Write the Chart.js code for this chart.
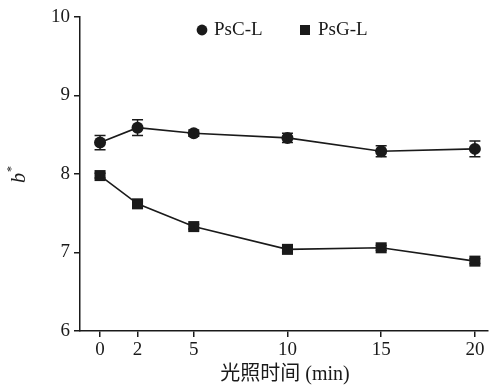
<!DOCTYPE html>
<html>
<head>
<meta charset="utf-8">
<script src="https://cdn.jsdelivr.net/npm/chart.js@4.4.1/dist/chart.umd.min.js"></script>
<style>
  html, body { margin: 0; padding: 0; background: #fff; }
  #wrap { width: 489px; height: 389px; }
</style>
</head>
<body>
<div id="wrap"><canvas id="chart" width="489" height="389"></canvas></div>
<script>
// light time (min)
var times = [0, 2, 5, 10, 15, 20];
var xTicks = [0, 2, 5, 10, 15, 20];
var yTicks = [6, 7, 8, 9, 10];

var pscValues = [8.40, 8.59, 8.52, 8.46, 8.29, 8.32];
var pscErrors = [0.09, 0.10, 0.04, 0.06, 0.07, 0.10];
var psgValues = [7.98, 7.62, 7.33, 7.04, 7.06, 6.89];
var psgErrors = [0.03, 0.03, 0.03, 0.03, 0.03, 0.03];

var seriesNames = ["PsC-L", "PsG-L"];
var xTitle = "光照时间 (min)";
var yTitle = "b";
var yTitleSup = "*";

var serif = "'Liberation Serif', 'Times New Roman', 'Noto Sans CJK SC', serif";
var ink = "#1a1a1a";

function toPoints(vals) {
    return times.map(function (t, i) { return { x: t, y: vals[i] }; });
}

// error bars drawn from the data through the y scale
var errorBars = {
    id: 'errorBars',
    afterDatasetsDraw: function (chart) {
        var ctx = chart.ctx;
        var ys = chart.scales.y;
        chart.data.datasets.forEach(function (ds, i) {
            var meta = chart.getDatasetMeta(i);
            ctx.save();
            ctx.strokeStyle = ink;
            ctx.lineWidth = 1.5;
            meta.data.forEach(function (pt, j) {
                var v = ds.data[j].y, e = ds.errors[j];
                var top = ys.getPixelForValue(v + e);
                var bot = ys.getPixelForValue(v - e);
                ctx.beginPath();
                ctx.moveTo(pt.x, top); ctx.lineTo(pt.x, bot);
                ctx.moveTo(pt.x - 5.5, top); ctx.lineTo(pt.x + 5.5, top);
                ctx.moveTo(pt.x - 5.5, bot); ctx.lineTo(pt.x + 5.5, bot);
                ctx.stroke();
            });
            ctx.restore();
        });
    }
};

// legend inside the plot and the axis titles
var decorations = {
    id: 'decorations',
    afterDraw: function (chart) {
        var ctx = chart.ctx;
        var area = chart.chartArea;
        ctx.save();
        ctx.fillStyle = ink;
        ctx.font = "19px " + serif;
        ctx.textBaseline = "middle";
        ctx.textAlign = "left";

        // legend
        var ly = 30;
        ctx.beginPath();
        ctx.arc(area.left + 122, ly, 5.4, 0, Math.PI * 2);
        ctx.fill();
        ctx.fillText(seriesNames[0], area.left + 134, ly);
        ctx.fillRect(area.left + 220, ly - 5, 10, 10);
        ctx.fillText(seriesNames[1], area.left + 238, ly);

        // x title
        ctx.textAlign = "center";
        ctx.font = "20px " + serif;
        ctx.fillText(xTitle, 285, 375);

        // y title, rotated
        ctx.translate(20, 176);
        ctx.rotate(-Math.PI / 2);
        ctx.font = "italic 20px " + serif;
        var w = ctx.measureText(yTitle).width;
        ctx.textAlign = "left";
        ctx.fillText(yTitle, -w / 2 - 2, 0);
        ctx.font = "12px " + serif;
        ctx.fillText(yTitleSup, w / 2 - 1, -8);
        ctx.restore();
    }
};

var ctx = document.getElementById('chart').getContext('2d');
var config = {
    type: 'line',
    data: {
        datasets: [{
            label: seriesNames[0],
            data: toPoints(pscValues),
            errors: pscErrors,
            borderColor: ink,
            backgroundColor: ink,
            borderWidth: 1.6,
            pointStyle: 'circle',
            pointRadius: 6,
            pointBorderWidth: 0,
            fill: false,
            clip: false,
        }, {
            label: seriesNames[1],
            data: toPoints(psgValues),
            errors: psgErrors,
            borderColor: ink,
            backgroundColor: ink,
            borderWidth: 1.6,
            pointStyle: 'rect',
            pointRadius: 7.8,
            pointBorderWidth: 0,
            fill: false,
            clip: false,
        }]
    },
    options: {
        responsive: false,
        animation: false,
        layout: { autoPadding: false, padding: { left: 0, right: 1, top: 17, bottom: 0 } },
        plugins: {
            legend: { display: false },
            tooltip: { enabled: false },
        },
        scales: {
            x: {
                type: 'linear',
                min: -1.07,
                max: 20.7,
                afterBuildTicks: function (scale) {
                    scale.ticks = xTicks.map(function (v) { return { value: v }; });
                },
                afterFit: function (scale) {
                    scale.height = 58;
                    scale.paddingLeft = 0;
                    scale.paddingRight = 0;
                },
                grid: { display: true, drawOnChartArea: false, drawTicks: true, tickLength: 6, color: ink, lineWidth: 1.5 },
                border: { display: true, color: ink, width: 1.5 },
                ticks: { color: ink, padding: 2, maxRotation: 0, font: { family: serif, size: 19 } },
            },
            y: {
                min: 6,
                max: 10,
                afterBuildTicks: function (scale) {
                    scale.ticks = yTicks.map(function (v) { return { value: v }; });
                },
                afterFit: function (scale) {
                    scale.width = 80;
                    scale.paddingTop = 0;
                    scale.paddingBottom = 0;
                },
                grid: { display: true, drawOnChartArea: false, drawTicks: true, tickLength: 6, color: ink, lineWidth: 1.5 },
                border: { display: true, color: ink, width: 1.5 },
                ticks: { color: ink, padding: 4, font: { family: serif, size: 19 } },
            }
        }
    },
    plugins: [errorBars, decorations]
};
new Chart(ctx, config);
</script>
</body>
</html>
